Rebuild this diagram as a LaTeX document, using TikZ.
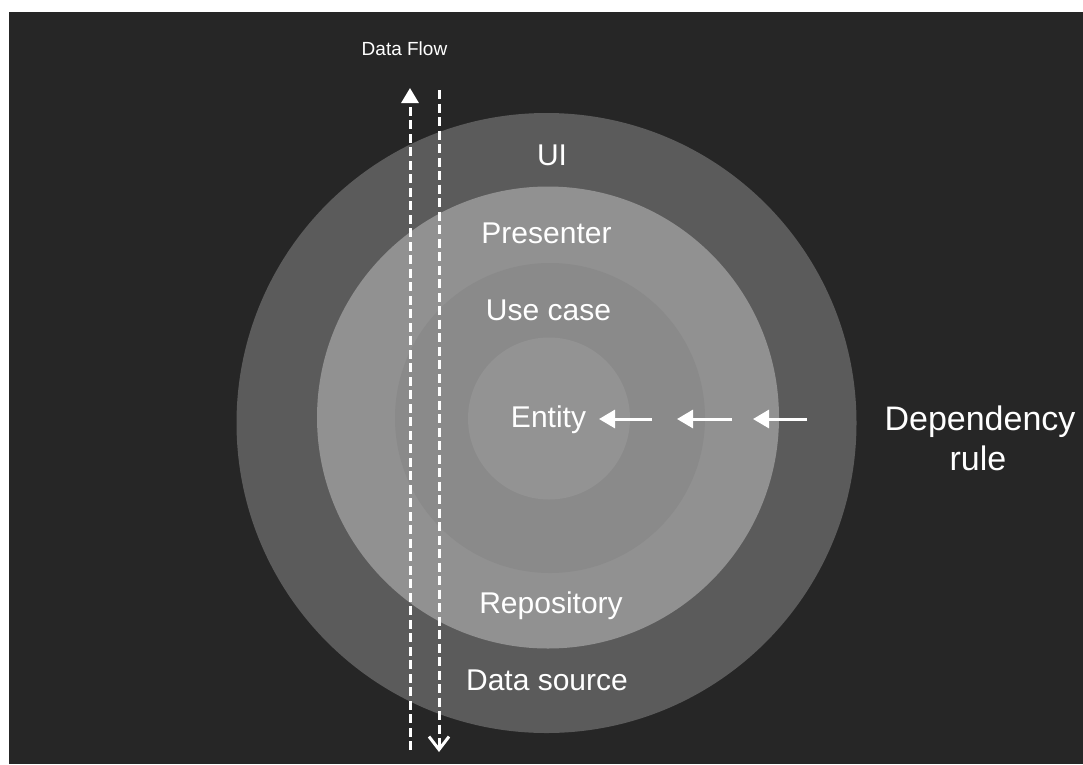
\documentclass[tikz,border=0pt]{standalone}
\usepackage{fontspec}
\setmainfont{Liberation Sans}
\usetikzlibrary{arrows.meta}
\definecolor{bg}{HTML}{262626}
\definecolor{ringA}{HTML}{5B5B5B}
\definecolor{ringB}{HTML}{919191}
\definecolor{ringC}{HTML}{8A8A8A}
\definecolor{ringD}{HTML}{939393}
\begin{document}
\begin{tikzpicture}[x=1pt,y=-1pt,
  lbl/.style={text=white, font=\fontsize{30}{36}\selectfont, anchor=base, inner sep=0pt},
  deplbl/.style={text=white, font=\fontsize{34}{40}\selectfont, anchor=base, inner sep=0pt},
  flow/.style={draw=white, line width=3pt, dash pattern=on 9pt off 4.5pt},
  dep/.style={draw=white, line width=3pt, -{Triangle[length=16pt,width=18pt]}}]
\useasboundingbox (0,0) rectangle (1083,764);
\fill[white] (0,0) rectangle (1083,764);
\fill[bg] (9,12) rectangle (1083,764);
\fill[ringA] (546.5,423) circle[radius=310pt];
\fill[ringB] (548,417.5) circle[radius=231pt];
\fill[ringC] (550,418) circle[radius=155pt];
\fill[ringD] (549,418.5) circle[radius=81pt];
\node[lbl] (ui) at (552,165) {UI};
\node[lbl] (presenter) at (546.5,243) {Presenter};
\node[lbl] (usecase) at (548.5,320) {Use case};
\node[lbl] (entity) at (548.5,427) {Entity};
\node[lbl] (repo) at (551,613) {Repository};
\node[lbl] (dsource) at (547,690) {Data source};
\node[deplbl] (dep1) at (980,430) {Dependency};
\node[deplbl] (dep2) at (978,470) {rule};
\node[text=white, font=\fontsize{19}{22}\selectfont, anchor=base, inner sep=0pt] (flowlbl) at (404.5,55) {Data Flow};
\coordinate (upS) at (410,750);
\coordinate (upE) at (410,88);
\coordinate (dnS) at (439,90);
\coordinate (dnE) at (439,752);
\draw[flow, -{Triangle[length=15pt,width=17pt]}] (upS) -- (upE);
\draw[flow, -{Straight Barb[length=13pt,width=20pt]}] (dnS) -- (dnE);
\coordinate (a1s) at (652,419); \coordinate (a1e) at (599,419);
\coordinate (a2s) at (732,419); \coordinate (a2e) at (677,419);
\coordinate (a3s) at (807,419); \coordinate (a3e) at (753,419);
\draw[dep] (a1s) -- (a1e);
\draw[dep] (a2s) -- (a2e);
\draw[dep] (a3s) -- (a3e);
\end{tikzpicture}
\end{document}
